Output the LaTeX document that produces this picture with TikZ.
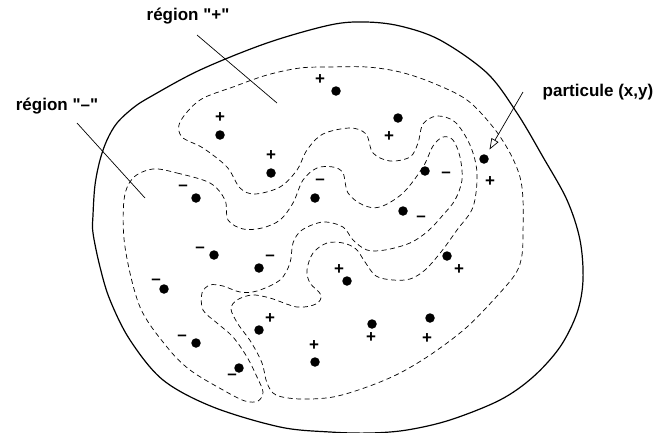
\documentclass[tikz,border=0pt]{standalone}
\usepackage{fontspec}
\setmainfont{Liberation Sans}[Ligatures=TeXOff]
\usetikzlibrary{arrows.meta,calc}

\begin{document}
\begin{tikzpicture}[x=1pt,y=-1pt,
  font=\bfseries\fontsize{17}{20}\selectfont,
  rim/.style={line width=1.2pt},
  zone/.style={dash pattern=on 5pt off 3.5pt, line width=0.7pt},
  dot/.style={circle, fill=black, inner sep=0pt, minimum size=9.5pt},
  sgn/.style={inner sep=0pt, font=\bfseries\fontsize{17}{17}\selectfont},
  lbl/.style={inner sep=0pt},
  lead/.style={line width=0.7pt},
]
\useasboundingbox (0,0) rectangle (656,432);

% Domain
\draw[rim] plot[smooth cycle, tension=0.55] coordinates {
  (93,215) (95,185) (100,160) (107,140) (117,123) (133,108) (150,97)
  (200,70) (267,43) (330,25) (365,22) (400,26) (440,40) (487,73)
  (517,113) (543,157) (567,200) (580,240) (583,280) (577,313) (560,347)
  (533,377) (500,400) (450,420) (407,430) (370,433) (330,432) (280,427)
  (213,407) (163,380) (130,340) (110,300) (100,267) (93,233)};

% Region "+"
\draw[zone] plot[smooth cycle, tension=0.55] coordinates {
  (330,67) (300,68) (267,75) (233,87) (200,100) (180,122) (182,137)
  (203,148) (227,167) (240,188) (255,194) (280,187) (297,170) (307,150)
  (323,134) (350,128) (366,134) (373,153) (390,161) (410,157) (418,143)
  (423,124) (437,116) (455,122) (470,145) (477,173) (473,207) (457,230)
  (441,252) (425,270) (410,279) (393,280) (376,276) (365,262) (356,249)
  (343,243) (327,243) (313,253) (307,270) (310,283) (321,295) (316,304)
  (297,307) (270,298) (252,295) (237,300) (231,309) (238,324) (251,342)
  (262,363) (267,383) (276,395) (300,399) (333,397) (367,387) (400,373)
  (433,353) (467,327) (498,295) (516,273) (522,255) (523,233) (523,200)
  (520,177) (510,153) (493,127) (467,100) (433,83) (400,72) (367,67)};

% Region "-"
\draw[zone] plot[smooth cycle, tension=0.55] coordinates {
  (153,169) (177,173) (210,183) (225,200) (228,220) (243,229) (262,228)
  (280,220) (293,203) (303,180) (317,168) (333,167) (343,173) (348,193)
  (363,205) (380,207) (403,193) (423,167) (433,146) (443,137) (453,140)
  (460,157) (462,180) (455,200) (443,215) (428,231) (410,243) (385,250)
  (367,250) (353,240) (343,227) (323,222) (302,230) (293,243) (290,263)
  (280,280) (257,291) (240,292) (223,286) (210,285) (202,293) (203,310)
  (217,323) (233,337) (247,357) (257,377) (263,392) (258,401) (245,401)
  (223,390) (190,370) (167,347) (140,307) (125,247) (124,200) (133,178)};

% Particles
\foreach \i/\px/\py/\s/\sx/\sy in {
  1/336/91/+/320/80, 2/220/135/+/220/118, 3/271/173/+/271/156,
  4/398/118/+/389/137, 5/196/198/–/183/188, 6/315/198/–/320/182,
  7/425/171/–/446/175, 8/484/159/+/490/182, 9/403/211/–/421/219,
  10/214/255/–/200/250, 11/259/268/–/270/258, 12/164/289/–/156/282,
  13/347/281/+/339/270, 14/447/256/+/459/270, 15/259/330/+/270/319,
  16/196/343/–/182/338, 17/239/368/–/232/377, 18/315/362/+/314/346,
  19/372/324/+/371/338, 20/430/318/+/427/339}{
  \node[dot] (p\i) at (\px,\py) {};
  \node[sgn] (s\i) at (\sx,\sy) {\s};
}

% Labels
\node[lbl] (rplus) at (188,16) {région "+"};
\coordinate (rplusA) at (197,35);
\coordinate (rplusB) at (277,103);
\draw[lead] (rplusA) -- (rplusB);

\node[lbl] (rminus) at (57,106) {région "–"};
\coordinate (rminusA) at (77,123);
\coordinate (rminusB) at (145,198);
\draw[lead] (rminusA) -- (rminusB);

\node[lbl] (part) at (598,92) {particule (x,y)};
\coordinate (partA) at (523,92);
\draw[lead, -{Triangle[open, length=11pt, width=8pt]}, shorten >=6pt] (partA) -- (p8);

\end{tikzpicture}
\end{document}
